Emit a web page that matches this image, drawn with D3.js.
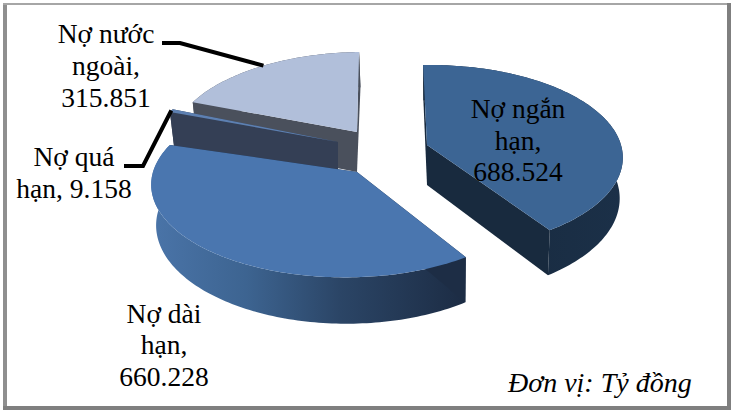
<!DOCTYPE html>
<html>
<head>
<meta charset="utf-8">
<script src="https://cdn.jsdelivr.net/npm/d3@7"></script>
<style>
  html, body { margin: 0; padding: 0; background: #fff; }
  svg { display: block; }
  text { font-family: "Liberation Serif", serif; fill: #000; }
</style>
</head>
<body>
<script>
// data
var categories = ["Nợ ngắn hạn", "Nợ dài hạn", "Nợ quá hạn", "Nợ nước ngoài"];
var values = [688.524, 660.228, 9.158, 315.851];
var valueLabels = ["688.524", "660.228", "9.158", "315.851"];
var unitLabel = "Đơn vị: Tỷ đồng";

var width = 733, height = 412;

// fake 3d pie: ellipse with a bit of perspective towards the viewer
var rx = 192, ry = 91, persp = 0.1365, depth = 40;
// the underside is slightly narrower than the top
var lowShrink = 0.983, lowFocusX = 440;

// where each slice ended up after exploding: arc centre and the inner corner
var arcCentre = [[429, 145], [345, 172], [345, 139], [365, 132]];
var apex = [[427, 145], [357, 172], [338, 142], [357, 132]];

var faces = [
  { top: "#3c6594", cut: "#182a3e", wall: "url(#wallShort)" },
  { top: "#4a76af", cut: "#1d2d45", wall: "url(#wallLong)" },
  { top: "#5d80b2", cut: "#343f55", wall: "#343f55" },
  { top: "#b1bfda", cut: "#4a505c", wall: "#4a505c" }
];

var svg = d3.select("body").append("svg")
  .attr("width", width)
  .attr("height", height);

// shaded side walls
var defs = svg.append("defs");
function addGradient(id, x1, x2, stops) {
  var g = defs.append("linearGradient")
    .attr("id", id)
    .attr("gradientUnits", "userSpaceOnUse")
    .attr("x1", x1).attr("x2", x2)
    .attr("y1", 0).attr("y2", 0);
  stops.forEach(function(s) {
    g.append("stop").attr("offset", s[0]).attr("stop-color", s[1]);
  });
}
addGradient("wallLong", 152, 465, [[0, "#4a74a8"], [0.3, "#3d6491"], [0.6, "#2b4566"], [1, "#1c2c44"]]);
addGradient("wallShort", 430, 623, [[0, "#17293d"], [1, "#1b3048"]]);

// frame
var frame = svg.append("g");
frame.append("rect").attr("x", 3).attr("y", 3).attr("width", 4).attr("height", 407).attr("fill", "#8f8f8f");
frame.append("rect").attr("x", 3).attr("y", 3).attr("width", 728).attr("height", 2).attr("fill", "#a6a6a6");
frame.append("rect").attr("x", 727).attr("y", 3).attr("width", 4).attr("height", 407).attr("fill", "#7f7f7f");
frame.append("rect").attr("x", 3).attr("y", 406).attr("width", 728).attr("height", 4).attr("fill", "#7f7f7f");

var pie = d3.pie()
  .sort(null)
  .startAngle(-2 * Math.PI / 180)
  .endAngle(358 * Math.PI / 180);

var arcs = pie(values);

function project(theta, c, lowered) {
  var x = Math.sin(theta), z = -Math.cos(theta);
  var s = 1 / (1 - persp * z);
  var px = c[0] + rx * x * s, py = c[1] + ry * z * s;
  if (lowered) {
    px = lowFocusX + (px - lowFocusX) * lowShrink;
    py += depth * s;
  }
  return [px, py];
}

function rim(d, c, lowered) {
  var steps = Math.max(2, Math.ceil((d.endAngle - d.startAngle) / 0.02));
  return d3.range(steps + 1).map(function(i) {
    return project(d.startAngle + (d.endAngle - d.startAngle) * i / steps, c, lowered);
  });
}

var line = d3.line();

// back to front
[3, 2, 0, 1].forEach(function(i) {
  var d = arcs[i], c = arcCentre[i], a = apex[i];
  var topRim = rim(d, c, false), lowRim = rim(d, c, true);
  var aLow = [a[0], a[1] + depth];
  var g = svg.append("g").attr("class", "slice");

  // outer wall
  g.append("path")
    .attr("d", line(topRim.concat(lowRim.slice().reverse())) + "Z")
    .attr("fill", faces[i].wall);

  // the two cut faces
  [[topRim[0], lowRim[0]], [topRim[topRim.length - 1], lowRim[lowRim.length - 1]]].forEach(function(e) {
    g.append("path")
      .attr("d", line([a, e[0], e[1], aLow]) + "Z")
      .attr("fill", faces[i].cut);
  });

  // top face
  g.append("path")
    .attr("d", line([a].concat(topRim)) + "Z")
    .attr("fill", faces[i].top);
});

// leader lines end on the middle of their slice
function midRim(i) {
  return project((arcs[i].startAngle + arcs[i].endAngle) / 2, arcCentre[i], false);
}
var leaders = [
  [[162, 43], [180, 43], midRim(3)],
  [[124, 166], [143, 166], midRim(2)]
];
svg.selectAll("path.leader")
  .data(leaders)
  .enter().append("path")
  .attr("class", "leader")
  .attr("d", line)
  .attr("fill", "none")
  .attr("stroke", "#000")
  .attr("stroke-width", 4);

// labels, split the way the picture wraps them
var labelBlocks = [
  { x: 518, y: [118, 150, 181], lines: ["Nợ ngắn", "hạn,", valueLabels[0]] },
  { x: 164, y: [323, 354, 386], lines: ["Nợ dài", "hạn,", valueLabels[1]] },
  { x: 74, y: [166, 198], lines: ["Nợ quá", "hạn, " + valueLabels[2]] },
  { x: 106, y: [43, 75, 107], lines: ["Nợ nước", "ngoài,", valueLabels[3]] }
];
labelBlocks.forEach(function(b) {
  b.lines.forEach(function(t, j) {
    svg.append("text")
      .attr("x", b.x)
      .attr("y", b.y[j])
      .attr("text-anchor", "middle")
      .attr("font-size", 27.5)
      .text(t);
  });
});

svg.append("text")
  .attr("x", 508)
  .attr("y", 392)
  .attr("font-size", 28)
  .attr("font-style", "italic")
  .text(unitLabel);
</script>
</body>
</html>
